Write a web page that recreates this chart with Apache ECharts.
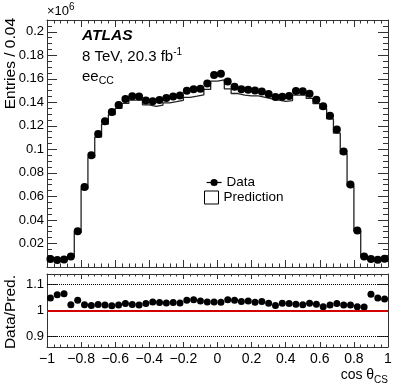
<!DOCTYPE html>
<html lang="en">
<head>
    <meta charset="UTF-8">
    <title>cos theta CS</title>
    <script src="https://cdn.jsdelivr.net/npm/echarts@6/dist/echarts.min.js"></script>
</head>
<style>
html,body{margin:0;padding:0;background:#fff;}
#chartBox{width:409px;height:392px;}
</style>
<body>
    <div id="chartBox"></div>
</body>
<script>
// bin centres of cos theta_CS (bin width 0.04)
const binWidth = 0.04;
const binCenters = [-0.98,-0.94,-0.90,-0.86,-0.82,-0.78,-0.74,-0.70,-0.66,-0.62,
    -0.58,-0.54,-0.50,-0.46,-0.42,-0.38,-0.34,-0.30,-0.26,-0.22,
    -0.18,-0.14,-0.10,-0.06,-0.02,0.02,0.06,0.10,0.14,0.18,
    0.22,0.26,0.30,0.34,0.38,0.42,0.46,0.50,0.54,0.58,
    0.62,0.66,0.70,0.74,0.78,0.82,0.86,0.90,0.94,0.98];

// entries, in units of 10^6
const dataVals = [0.0068,0.0059,0.0064,0.0090,0.0304,0.0680,0.0950,0.1130,0.1240,0.1318,
    0.1377,0.1428,0.1452,0.1450,0.1416,0.1410,0.1420,0.1436,0.1450,0.1458,
    0.1498,0.1512,0.1516,0.1560,0.1633,0.1642,0.1577,0.1532,0.1512,0.1507,
    0.1501,0.1492,0.1470,0.1445,0.1447,0.1453,0.1496,0.1494,0.1473,0.1422,
    0.1366,0.1286,0.1169,0.0983,0.0701,0.0310,0.0090,0.0068,0.0062,0.0070];

const predVals = [0.0065,0.0056,0.0060,0.0088,0.0293,0.0665,0.0932,0.1105,0.1215,0.1295,
    0.1349,0.1391,0.1419,0.1420,0.1379,0.1365,0.1377,0.1396,0.1406,0.1417,
    0.1442,0.1452,0.1463,0.1510,0.1581,0.1591,0.1515,0.1475,0.1461,0.1455,
    0.1455,0.1442,0.1430,0.1418,0.1408,0.1415,0.1461,0.1462,0.1433,0.1389,
    0.1347,0.1260,0.1138,0.0963,0.0687,0.0306,0.0089,0.0064,0.0059,0.0067];

const ratioVals = [1.048,1.060,1.064,1.022,1.039,1.022,1.019,1.023,1.021,1.018,
    1.021,1.027,1.023,1.021,1.027,1.033,1.031,1.029,1.031,1.029,
    1.039,1.041,1.036,1.033,1.033,1.032,1.041,1.039,1.035,1.036,
    1.032,1.035,1.028,1.019,1.028,1.027,1.024,1.022,1.028,1.024,
    1.014,1.021,1.027,1.021,1.021,1.014,1.013,1.062,1.048,1.044];

const ratioTicks = [0.9, 1, 1.1];
const FONT = 'Liberation Sans';
const FRAME = '#333';

// step outline of the prediction histogram: left edges + closing right edge
function histOutline(centers, vals) {
    let pts = centers.map((c, i) => [c - binWidth / 2, vals[i]]);
    let last = centers.length - 1;
    pts.push([centers[last] + binWidth / 2, vals[last]]);
    return pts;
}

function minusSign(v) {
    return String(+v.toFixed(2)).replace('-', '\u2212');
}

// one side of the ATLAS style frame box
function frameAxis(extra) {
    return Object.assign({
        type: 'value',
        axisLine: {show: true, onZero: false, lineStyle: {color: FRAME, width: 1}},
        splitLine: {show: false},
        axisLabel: {show: false},
        nameMoveOverlap: false
    }, extra);
}

function xTicks(len) {
    return {
        min: -1, max: 1, interval: 0.2,
        axisTick: {show: true, inside: true, length: len, lineStyle: {color: FRAME}},
        minorTick: {show: true, splitNumber: 5, length: len / 2, lineStyle: {color: FRAME}}
    };
}

let chartObj = echarts.init(document.getElementById('chartBox'), null, {renderer: 'canvas'});

let legendText = {fontSize: 13.5, color: '#000', fontFamily: FONT};

let option = {
    animation: false,
    textStyle: {fontFamily: FONT, color: '#000'},
    grid: [
        {left: 47, top: 20, width: 341, height: 247},
        {left: 47, top: 274, width: 341, height: 73}
    ],
    xAxis: [
        frameAxis(Object.assign({gridIndex: 0, position: 'bottom'}, xTicks(7))),
        frameAxis(Object.assign({gridIndex: 0, position: 'top'}, xTicks(7))),
        frameAxis(Object.assign({
            gridIndex: 1, position: 'bottom',
            axisLabel: {show: true, fontSize: 14, margin: 5, color: '#000', formatter: minusSign,
                showMinLabel: true, showMaxLabel: true},
            name: 'cos \u03b8{sub|CS}',
            nameLocation: 'end',
            nameGap: 0,
            nameTextStyle: {
                fontSize: 14, color: '#000', align: 'right', verticalAlign: 'top',
                padding: [19, 0, 0, 0],
                rich: {sub: {fontSize: 10, padding: [9, 0, 0, 0]}}
            }
        }, xTicks(5))),
        frameAxis(Object.assign({gridIndex: 1, position: 'top'}, xTicks(5)))
    ],
    yAxis: [
        frameAxis({
            gridIndex: 0, position: 'left', min: 0, max: 0.21, interval: 0.02,
            axisTick: {show: true, inside: true, length: 10, lineStyle: {color: FRAME}},
            minorTick: {show: true, splitNumber: 4, length: 5, lineStyle: {color: FRAME}},
            axisLabel: {show: true, fontSize: 13, margin: 3, color: '#000',
                showMinLabel: false, showMaxLabel: false},
            name: 'Entries / 0.04',
            nameLocation: 'end',
            nameGap: 2,
            nameRotate: 90,
            nameTextStyle: {fontSize: 15.5, color: '#000', align: 'right', verticalAlign: 'bottom',
                padding: [0, 0, 28, 0]}
        }),
        frameAxis({
            gridIndex: 0, position: 'right', min: 0, max: 0.21, interval: 0.02,
            axisTick: {show: true, inside: true, length: 10, lineStyle: {color: FRAME}},
            minorTick: {show: true, splitNumber: 4, length: 5, lineStyle: {color: FRAME}}
        }),
        frameAxis({
            gridIndex: 1, position: 'left', min: 0.86, max: 1.14,
            axisTick: {show: true, inside: true, length: 10, customValues: ratioTicks, lineStyle: {color: FRAME}},
            axisLabel: {show: true, fontSize: 13, margin: 3, color: '#000', customValues: ratioTicks},
            name: 'Data/Pred.',
            nameLocation: 'end',
            nameGap: -1,
            nameRotate: 90,
            nameTextStyle: {fontSize: 15.5, color: '#000', align: 'right', verticalAlign: 'bottom',
                padding: [0, 0, 28, 0]}
        }),
        frameAxis({
            gridIndex: 1, position: 'right', min: 0.86, max: 1.14,
            axisTick: {show: true, inside: true, length: 10, customValues: ratioTicks, lineStyle: {color: FRAME}}
        })
    ],
    // two legends so the marker and the box can have their own sizes
    legend: [
        {
            left: 206,
            top: 175.5,
            padding: 0,
            itemWidth: 15,
            itemHeight: 9,
            textStyle: legendText,
            data: [{name: 'Data', lineStyle: {width: 1.2, color: '#000', opacity: 1}}]
        },
        {
            left: 204,
            top: 190.5,
            padding: 0,
            itemWidth: 14,
            itemHeight: 13,
            itemGap: 0,
            textStyle: legendText,
            data: [{name: 'Prediction', icon: 'rect',
                itemStyle: {color: '#fff', borderColor: '#000', borderWidth: 1}}]
        }
    ],
    graphic: [
        {type: 'text', left: 47, top: 2,
            style: {text: '\u00d710{sup|6}', font: '13px ' + FONT, fill: '#000',
                rich: {sup: {fontSize: 10, padding: [0, 0, 9, 0]}}}},
        {type: 'text', left: 82, top: 28,
            style: {text: 'ATLAS', font: 'italic bold 15.5px ' + FONT, fill: '#000'}},
        {type: 'text', left: 82, top: 47,
            style: {text: '8 TeV, 20.3 fb{sup|-1}', font: '15px ' + FONT, fill: '#000',
                rich: {sup: {fontSize: 10, padding: [0, 0, 10, 0]}}}},
        {type: 'text', left: 82, top: 69,
            style: {text: 'ee{sub|CC}', font: '15px ' + FONT, fill: '#000',
                rich: {sub: {fontSize: 10.5, padding: [9, 0, 0, 0]}}}}
    ],
    series: [
        {
            type: 'line',
            name: 'Prediction',
            xAxisIndex: 0,
            yAxisIndex: 0,
            step: 'end',
            symbol: 'none',
            z: 2,
            lineStyle: {color: '#222', width: 1.3},
            itemStyle: {color: '#fff', borderColor: '#000'},
            data: histOutline(binCenters, predVals)
        },
        {
            type: 'line',
            name: 'Data',
            xAxisIndex: 0,
            yAxisIndex: 0,
            symbol: 'circle',
            symbolSize: 8,
            z: 3,
            itemStyle: {color: '#000'},
            lineStyle: {width: 0, color: '#000'},
            data: binCenters.map((c, i) => [c, dataVals[i]])
        },
        {
            type: 'scatter',
            name: 'Ratio',
            xAxisIndex: 2,
            yAxisIndex: 2,
            symbolSize: 7,
            z: 3,
            itemStyle: {color: '#000', opacity: 1},
            data: binCenters.map((c, i) => [c, ratioVals[i]]),
            markLine: {
                silent: true,
                symbol: 'none',
                label: {show: false},
                data: [
                    {yAxis: 0.9, lineStyle: {color: '#000', type: 'dotted', width: 1}},
                    {yAxis: 1.1, lineStyle: {color: '#000', type: 'dotted', width: 1}},
                    {yAxis: 1, lineStyle: {color: '#d40000', type: 'solid', width: 1.8}}
                ]
            }
        }
    ]
};

chartObj.setOption(option);
</script>
</html>
